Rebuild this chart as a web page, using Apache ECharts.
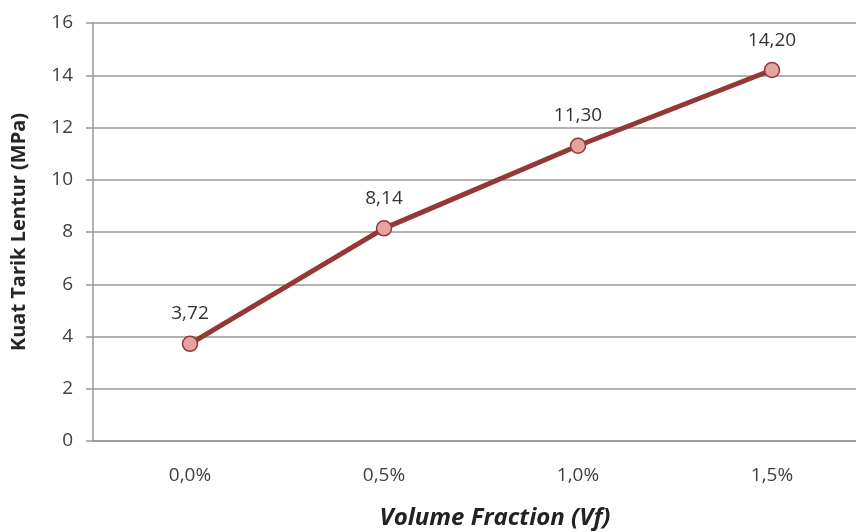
<!DOCTYPE html>
<html><head><meta charset="utf-8">
<script src="https://cdn.jsdelivr.net/npm/echarts@6/dist/echarts.min.js"></script>
<style>html,body{margin:0;padding:0;background:#fff;overflow:hidden;width:856px;height:532px}#c{width:869px;height:532px}</style>
</head><body><div id="c"></div>
<script>
var categories = ['0,0%', '0,5%', '1,0%', '1,5%'];
var values = [3.72, 8.14, 11.30, 14.20];
var yTicks = {min: 0, max: 16, interval: 2};
var xTitle = 'Volume Fraction (Vf)';
var yTitle = 'Kuat Tarik Lentur (MPa)';

var font = '"Open Sans", "Liberation Sans", sans-serif';
var chart = echarts.init(document.getElementById('c'), null, {renderer: 'canvas'});
chart.setOption({
  animation: false,
  backgroundColor: '#fff',
  grid: {left: 93, top: 23, bottom: 91, right: 0, containLabel: false, outerBoundsMode: 'none'},
  xAxis: {
    type: 'category', data: categories, boundaryGap: true,
    axisLine: {lineStyle: {color: '#999', width: 1.5}},
    axisTick: {show: false},
    axisLabel: {color: '#404040', fontFamily: font, fontSize: 19, margin: 25},
    name: xTitle, nameLocation: 'middle', nameGap: 65,
    nameTextStyle: {fontFamily: font, fontSize: 24, fontWeight: 'bold', fontStyle: 'italic', color: '#222', padding: [0, 0, 0, 28]}
  },
  yAxis: {
    type: 'value', min: yTicks.min, max: yTicks.max, interval: yTicks.interval,
    axisLine: {show: true, lineStyle: {color: '#999', width: 1.5}},
    axisTick: {show: true, length: 7, lineStyle: {color: '#999', width: 1.5}},
    splitLine: {lineStyle: {color: '#999', width: 1.5}},
    axisLabel: {color: '#404040', fontFamily: font, fontSize: 19, margin: 20},
    name: yTitle, nameLocation: 'middle', nameGap: 56, nameRotate: 90,
    nameTextStyle: {fontFamily: font, fontSize: 20, fontWeight: 'bold', color: '#262626', padding: [0, 0, 8, 0]}
  },
  series: [{
    type: 'line', data: values,
    symbol: 'circle', symbolSize: 15,
    lineStyle: {color: '#953735', width: 5},
    itemStyle: {color: '#e6a3a3', borderColor: '#953735', borderWidth: 1.5},
    label: {show: true, position: 'top', distance: 12, color: '#333', fontFamily: font, fontSize: 19,
      formatter: function(p){ return p.value.toFixed(2).replace('.', ','); }}
  }]
});
</script></body></html>
